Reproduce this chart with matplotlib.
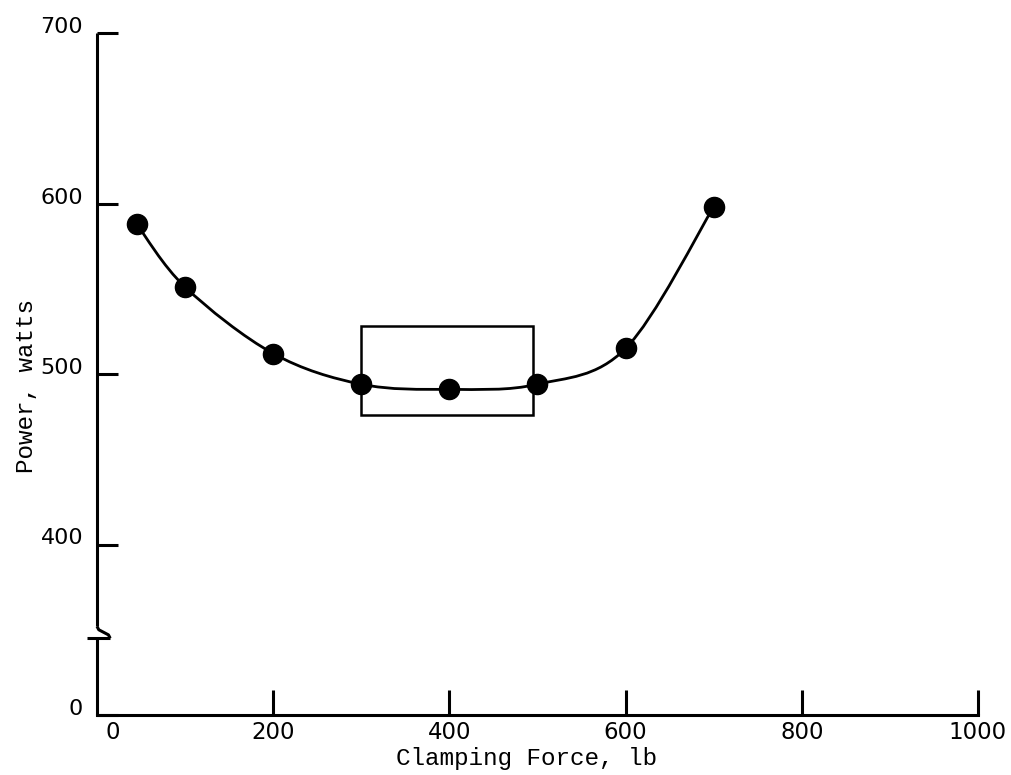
import matplotlib
matplotlib.use('Agg')
import matplotlib.pyplot as plt
from matplotlib.path import Path
from matplotlib.patches import PathPatch, Rectangle
from matplotlib.transforms import ScaledTranslation
import numpy as np

# data
force = [45, 100, 200, 300, 400, 500, 600, 700]
power = [588, 551, 512, 494, 491, 494, 515, 598]

x_ticks = [0, 200, 400, 600, 800, 1000]
x_labels = ['0', '200', '400', '600', '800', '1000']
# y axis has a break: the bottom tick (labelled 0) sits where 300 would be
y_ticks = [300, 400, 500, 600, 700]
y_labels = ['0', '400', '500', '600', '700']

# optimum region box (force from..to, power from..to)
box_x = [300, 495]
box_y = [476, 528]

fig = plt.figure(figsize=(10.12, 7.75), dpi=100)
ax = fig.add_axes([97 / 1012, 1 - 715 / 775, 881 / 1012, 682 / 775])
ax.set_xlim(0, 1000)
ax.set_ylim(300, 700)

lw = 2.2
ax.spines['top'].set_visible(False)
ax.spines['right'].set_visible(False)
ax.spines['left'].set_visible(False)
ax.spines['bottom'].set_linewidth(lw)

# smooth curve through the points (Catmull-Rom -> cubic bezier)
pts = np.column_stack([force, power]).astype(float)
verts = [tuple(pts[0])]
codes = [Path.MOVETO]
for i in range(len(pts) - 1):
    p0 = pts[i - 1] if i > 0 else pts[i]
    p1 = pts[i]
    p2 = pts[i + 1]
    p3 = pts[i + 2] if i + 2 < len(pts) else pts[i + 1]
    c1 = p1 + (p2 - p0) / 6
    c2 = p2 - (p3 - p1) / 6
    verts += [tuple(c1), tuple(c2), tuple(p2)]
    codes += [Path.CURVE4] * 3
ax.add_patch(PathPatch(Path(verts, codes), fill=False, lw=2.0, color='black'))

ax.plot(force, power, 'o', color='black', markersize=14.5, zorder=3)

ax.add_patch(Rectangle((box_x[0], box_y[0]), box_x[1] - box_x[0], box_y[1] - box_y[0],
                       fill=False, lw=1.8, color='black'))

# left axis with break mark
kw = dict(color='black', lw=lw, clip_on=False, solid_capstyle='butt')
ax.plot([0, 0], [700, 352], **kw)
ax.plot([0, 2, 13, 15], [352, 350, 347, 345], **kw)
ax.plot([-11, 15], [345, 345], **kw)
ax.plot([0, 0], [345, 300], **kw)

ax.set_xticks(x_ticks)
ax.set_xticklabels(x_labels)
ax.set_yticks(y_ticks)
ax.set_yticklabels(y_labels)
ax.tick_params(axis='x', direction='in', length=18, width=lw, pad=4, labelsize=16.5)
ax.tick_params(axis='y', direction='in', length=15, width=lw, pad=10, labelsize=16)
for lbl in ax.get_yticklabels():
    lbl.set_va('baseline')
ax.xaxis.get_major_ticks()[0].tick1line.set_visible(False)
lbl0 = ax.get_xticklabels()[0]
lbl0.set_transform(lbl0.get_transform() + ScaledTranslation(0.16, 0, fig.dpi_scale_trans))

ax.set_xlabel('Clamping Force, lb', family='Liberation Mono', fontsize=17.5)
ax.xaxis.set_label_coords(0.487, -0.047)
ax.set_ylabel('Power, watts', family='Liberation Mono', fontsize=17.5)
ax.yaxis.set_label_coords(-0.067, 0.482)

fig.savefig('out.png', dpi=100)
